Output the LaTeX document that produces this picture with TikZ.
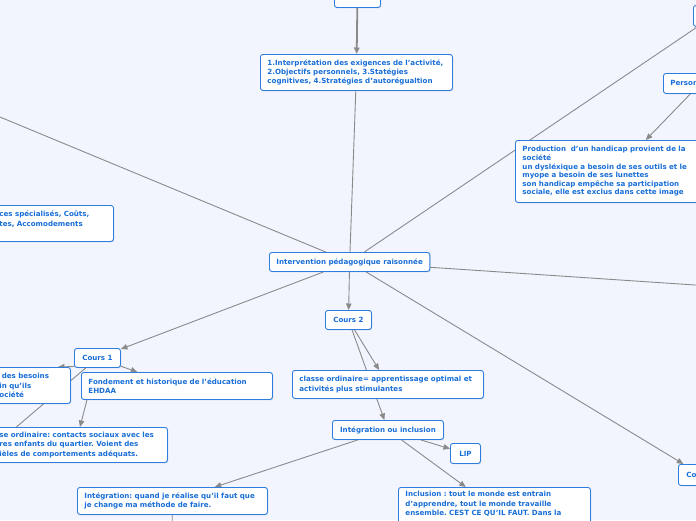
\documentclass[tikz,border=0pt]{standalone}
\usepackage{fontspec}
\setmainfont{DejaVu Sans}
\usetikzlibrary{arrows.meta,shadows}
\definecolor{bgblue}{RGB}{242,245,253}
\definecolor{boxblue}{RGB}{45,125,225}
\definecolor{txtblue}{RGB}{25,110,215}
\definecolor{edgegray}{RGB}{138,138,138}
\pgfdeclarelayer{bg}
\pgfdeclarelayer{edges}
\pgfsetlayers{bg,edges,main}
\frenchspacing
\tikzset{
  topic/.style={draw=boxblue, fill=white, rounded corners=2.5pt, line width=0.9pt, anchor=north west, align=left, inner xsep=7pt, inner ysep=0pt, text=txtblue, font=\fontsize{7.1}{9.3}\selectfont\bfseries, drop shadow={opacity=0.2, shadow xshift=0.8pt, shadow yshift=-0.8pt}},
  link/.style={draw=edgegray, line width=0.9pt},
  arr/.style={link, -{Triangle[length=6.5pt, width=5.5pt]}},
}

\begin{document}
\begin{tikzpicture}[x=1pt, y=-1pt]
  \useasboundingbox (0,0) rectangle (696,520);
  \begin{pgfonlayer}{bg}
    \fill[bgblue] (0,0) rectangle (696,520);
  \end{pgfonlayer}
  % topics
  \node[topic, minimum width=46pt, minimum height=19pt] (top) at (334,-12) {};
  \node[topic, text width=178pt, minimum height=36pt] (interp) at (260,54)
    {1.Interprétation des exigences de l'activité,\\2.Objectifs personnels, 3.Statégies\\cognitives, 4.Stratégies d'autorégualtion};
  \node[topic, minimum width=40pt, minimum height=21pt] (corner) at (693,5) {};
  \node[topic, text width=60pt, minimum height=20pt] (person) at (663,73) {Personne};
  \node[topic, text width=186pt, minimum height=62pt, font=\fontsize{7.1}{8.6}\selectfont\bfseries] (prod) at (515,140)
    {Production\ \ d'un handicap provient de la\\société\\un dysléxique a besoin de ses outils et le\\myope a besoin de ses lunettes\\son handicap empêche sa participation\\sociale, elle est exclus dans cette image};
  \node[topic, text width=107pt, minimum height=36pt] (serv) at (-8,205)
    {ces spécialisés, Coûts,\\tes, Accomodements\\\mbox{}};
  \node[topic, minimum width=160pt, minimum height=19pt] (centre) at (269,252) {Intervention pédagogique raisonnée};
  \node[topic, minimum width=46pt, minimum height=19pt] (cours2) at (325,310) {Cours 2};
  \node[topic, minimum width=46pt, minimum height=19pt] (cours1) at (74,348) {Cours 1};
  \node[topic, text width=64pt, minimum height=36pt] (besoins) at (-8,367)
    {~des besoins\\in qu'ils\\ociété};
  \node[topic, text width=177pt, minimum height=27pt] (fond) at (81,372)
    {Fondement et historique de l'éducation\\EHDAA};
  \node[topic, text width=177pt, minimum height=28pt] (classe) at (292,370)
    {classe ordinaire= apprentissage optimal et\\activités plus stimulantes};
  \node[topic, text width=161pt, minimum height=35pt] (contacts) at (-8,427)
    {se ordinaire: contacts sociaux avec les\\res enfants du quartier. Voient des\\ièles de comportements adéquats.};
  \node[topic, minimum width=111pt, minimum height=19pt] (integinc) at (332,420) {Intégration ou inclusion};
  \node[topic, minimum width=30pt, minimum height=20pt] (lip) at (450,443) {LIP};
  \node[topic, text width=176pt, minimum height=27pt] (integ) at (77,487)
    {Intégration: quand je réalise qu'il faut que\\je change ma méthode de faire.};
  \node[topic, text width=178pt, inner ysep=4pt] (incl) at (398,487)
    {Inclusion : tout le monde est entrain\\d'apprendre, tout le monde travaille\\ensemble. CEST CE QU'IL FAUT. Dans la\\\mbox{}};
  \node[topic, minimum width=46pt, minimum height=21pt] (cours3) at (678,464) {Cours 3};
  % free ends
  \coordinate (offleft) at (-30,104.6);
  \coordinate (offright) at (740,288);
  \coordinate (offlow) at (-20,458);
  \coordinate (offdown) at (172,540);
  % links
  \begin{pgfonlayer}{edges}
    \draw[arr, line width=1.8pt] (top) -- (interp);
    \draw[link] (interp) -- (centre);
    \draw[link] (corner) -- (centre);
    \draw[arr] (person) -- (prod);
    \draw[link] (offleft) -- (centre);
    \draw[link] (centre) -- (offright);
    \draw[arr] (centre) -- (cours1);
    \draw[arr] (centre) -- (cours2);
    \draw[arr] (centre) -- (cours3);
    \draw[arr] (cours2) -- (classe);
    \draw[arr] (cours2) -- (integinc);
    \draw[arr] (cours1.200) -- ([xshift=-13pt]besoins.north east);
    \draw[link] (cours1) -- (offlow);
    \draw[arr] (cours1) -- (fond);
    \draw[arr] ([xshift=6pt]fond.south west) -- (contacts.north);
    \draw[arr] (integinc) -- (integ);
    \draw[arr] (integinc) -- (incl);
    \draw[arr] (integinc) -- (lip);
    \draw[link] (integ) -- (offdown);
  \end{pgfonlayer}
\end{tikzpicture}
\end{document}
